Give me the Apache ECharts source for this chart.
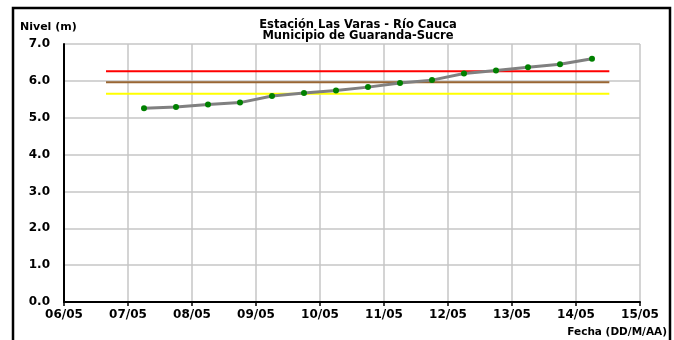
<!DOCTYPE html>
<html>
<head>
<meta charset="utf-8">
<script src="https://cdn.jsdelivr.net/npm/echarts@6/dist/echarts.min.js"></script>
<style>
  html, body { margin: 0; padding: 0; background: #fff; }
  #chart { width: 674px; height: 340px; }
</style>
</head>
<body>
<div id="chart"></div>
<script>
// lecturas del nivel (cada 12 h)
const fechas = ['07/05 06:00', '07/05 18:00', '08/05 06:00', '08/05 18:00', '09/05 06:00',
  '09/05 18:00', '10/05 06:00', '10/05 18:00', '11/05 06:00', '11/05 18:00',
  '12/05 06:00', '12/05 18:00', '13/05 06:00', '13/05 18:00', '14/05 06:00'];
const nivel = [5.26, 5.29, 5.36, 5.41, 5.59, 5.67, 5.74, 5.83, 5.94, 6.02, 6.20, 6.28, 6.37, 6.45, 6.60];

// umbrales de alerta
const umbralRojo = 6.26;
const umbralCafe = 5.96;
const umbralAmarillo = 5.65;
const umbralDesde = '06/05 15:45';
const umbralHasta = '14/05 12:30';

// ticks
const diaInicio = 6;
const diasX = ['06/05', '07/05', '08/05', '09/05', '10/05', '11/05', '12/05', '13/05', '14/05', '15/05'];
const ticksY = [0, 1, 2, 3, 4, 5, 6, 7];

// '07/05 06:00' -> dias desde 06/05
function dia(s) {
  var p = s.split(' ');
  var d = parseInt(p[0].split('/')[0], 10);
  var hm = p[1].split(':');
  return d - diaInicio + (parseInt(hm[0], 10) + parseInt(hm[1], 10) / 60) / 24;
}

function umbral(v, color) {
  return {
    type: 'line',
    data: [[dia(umbralDesde), v], [dia(umbralHasta), v]],
    symbol: 'none',
    lineStyle: { color: color, width: 2 },
    silent: true,
    z: 2
  };
}

const fuente = 'DejaVu Sans';
var chart = echarts.init(document.getElementById('chart'));

chart.setOption({
  animation: false,
  title: {
    text: 'Estación Las Varas - Río Cauca\nMunicipio de Guaranda-Sucre',
    left: 353,
    top: 15,
    textAlign: 'center',
    textStyle: { fontFamily: fuente, fontSize: 11.5, fontWeight: 'bold', color: '#000', lineHeight: 11 }
  },
  graphic: [
    {
      type: 'rect',
      shape: { x: 13, y: 8, width: 657, height: 345 },
      style: { fill: null, stroke: '#000', lineWidth: 2.5 },
      silent: true
    },
    {
      type: 'text',
      left: 20, top: 22,
      style: { text: 'Nivel (m)', font: 'bold 11px "DejaVu Sans"', fill: '#000' }
    },
    {
      type: 'text',
      right: 7, top: 327,
      style: { text: 'Fecha (DD/M/AA)', font: 'bold 10.5px "DejaVu Sans"', fill: '#000' }
    }
  ],
  grid: { left: 64, right: 34, top: 44, bottom: 38 },
  xAxis: {
    type: 'value',
    min: 0,
    max: diasX.length - 1,
    interval: 1,
    axisLine: { lineStyle: { color: '#000', width: 2 } },
    axisTick: { show: true, length: 4, lineStyle: { color: '#000', width: 1.5 } },
    axisLabel: {
      margin: 7,
      fontFamily: fuente, fontSize: 12, fontWeight: 'bold', color: '#000',
      formatter: function (v) { return diasX[v]; }
    },
    splitLine: { show: true, lineStyle: { color: '#C6C6C6', width: 1.5 } }
  },
  yAxis: {
    type: 'value',
    min: ticksY[0],
    max: ticksY[ticksY.length - 1],
    interval: 1,
    axisLine: { show: true, lineStyle: { color: '#000', width: 2 } },
    axisTick: { show: false },
    axisLabel: {
      margin: 14,
      fontFamily: fuente, fontSize: 12, fontWeight: 'bold', color: '#000',
      formatter: function (v) { return v.toFixed(1); }
    },
    splitLine: { show: true, lineStyle: { color: '#C6C6C6', width: 1.5 } }
  },
  series: [
    umbral(umbralAmarillo, '#FFFF00'),
    umbral(umbralCafe, '#996633'),
    umbral(umbralRojo, '#FF0000'),
    {
      type: 'line',
      data: fechas.map(function (f, i) { return [dia(f), nivel[i]]; }),
      symbol: 'circle',
      symbolSize: 6,
      itemStyle: { color: '#008000' },
      lineStyle: { color: '#808080', width: 3 },
      z: 3
    }
  ]
});
</script>
</body>
</html>
